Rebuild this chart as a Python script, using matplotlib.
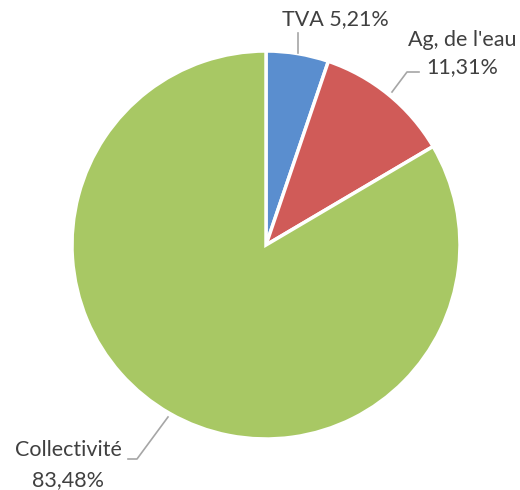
import matplotlib
matplotlib.use("Agg")
import matplotlib.pyplot as plt
import numpy as np

labels = ["TVA", "Ag, de l'eau", "Collectivité"]
values = [5.21, 11.31, 83.48]
colors = ["#5A8ECF", "#D05B58", "#A8C864"]

W, H = 520, 490
fig = plt.figure(figsize=(W / 100, H / 100), dpi=100)
ax = fig.add_axes([0, 0, 1, 1])

cx, cy, R = 266, H - 245, 194
ax.pie(values, colors=colors, startangle=90, counterclock=False,
       center=(cx, cy), radius=R, frame=True,
       wedgeprops=dict(edgecolor="white", linewidth=2.5))
ax.set_xlim(0, W)
ax.set_ylim(0, H)
ax.set_aspect("equal")
ax.axis("off")

font = dict(family=["Lato", "DejaVu Sans"], fontsize=15.5, color="#404040")
lc = "#A6A6A6"

def fmt(v):
    return f"{v:.2f}".replace(".", ",") + "%"

# TVA
ax.plot([298, 298], [H - 33, H - 53], color=lc, lw=1.2)
ax.text(335, H - 19, f"{labels[0]} {fmt(values[0])}", ha="center", va="center", **font)
# Ag de l'eau
ax.plot([392, 407, 419], [H - 92, H - 72, H - 72], color=lc, lw=1.2)
ax.text(517, H - 40, labels[1], ha="right", va="center", **font)
ax.text(462, H - 67, fmt(values[1]), ha="center", va="center", **font)
# Collectivité
ax.plot([168, 137, 128], [H - 417, H - 459, H - 459], color=lc, lw=1.2)
ax.text(68, H - 450, labels[2], ha="center", va="center", **font)
ax.text(68, H - 480, fmt(values[2]), ha="center", va="center", **font)

fig.savefig("out.png", dpi=100, facecolor="white")
